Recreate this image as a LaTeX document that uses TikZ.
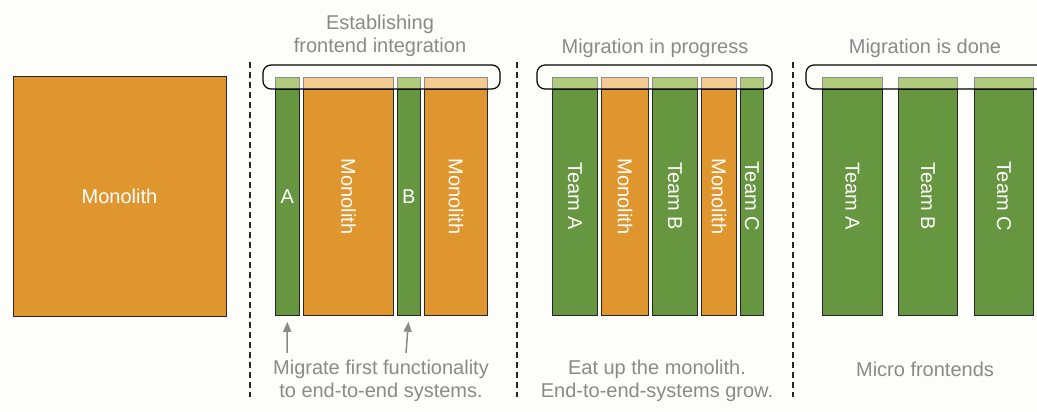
\documentclass[tikz,border=0pt]{standalone}
\usepackage{fontspec}
\setmainfont{Liberation Sans}
\usetikzlibrary{arrows.meta}

\definecolor{monodark}{HTML}{E0962F}
\definecolor{monolight}{HTML}{F3CA8F}
\definecolor{teamdark}{HTML}{66963F}
\definecolor{teamlight}{HTML}{AFCB7B}
\definecolor{captiongray}{HTML}{8A8A8A}
\definecolor{paper}{HTML}{FDFDFA}

\tikzset{
	bar/.style={draw=black!45, line width=0.8pt, inner sep=0pt, anchor=north west, minimum height=238pt},
	barline/.style={draw=black!85, line width=0.8pt},
	barlabel/.style={text=white, font=\fontsize{20}{24}\selectfont, inner sep=0pt},
	caption/.style={text=captiongray, font=\fontsize{20}{23}\selectfont, align=center},
	bracket/.style={draw=black, line width=1.2pt, rounded corners=8pt},
	divider/.style={draw=black!85, line width=1.2pt, dash pattern=on 6pt off 4pt},
	pointer/.style={draw=captiongray, line width=1.5pt, -{Triangle[width=8pt,length=10pt]}, shorten >=6pt}
}

% one column: name, left x, width, dark colour, light colour
\newcommand{\column}[5]{%
	\node[bar, fill=#5, minimum width=#3] (#1) at (#2,335) {};
	\fill[#4] ([yshift=-12pt]#1.north west) rectangle (#1.south east);
	\draw[barline] ([yshift=-12pt]#1.north west) rectangle (#1.south east);
}

\begin{document}
\begin{tikzpicture}[x=1pt,y=1pt]
			% Page size and background:
			\fill[paper] (0,0) rectangle (1037,412);
			\useasboundingbox (0,0) rectangle (1037,412);
			\clip (0,0) rectangle (1037,412);
			% The monolith before the migration:
			\node[draw=black!85, line width=0.8pt, fill=monodark, minimum width=213pt, minimum height=240pt, inner sep=0pt] (mono) at (119.5,216) {};
			\node[barlabel] at (mono) {Monolith};
			% Dashed dividers between the stages:
			\draw[divider] (250,350) -- (250,15);
			\draw[divider] (517,350) -- (517,15);
			\draw[divider] (793,350) -- (793,15);
			% Stage 1: establishing frontend integration
			\column{sA}{275}{24pt}{teamdark}{teamlight}
			\column{sMa}{303}{90pt}{monodark}{monolight}
			\column{sB}{397}{23pt}{teamdark}{teamlight}
			\column{sMb}{424}{63pt}{monodark}{monolight}
			\node[barlabel] at (sA) {A};
			\node[barlabel, rotate=-90] at (sMa) {Monolith};
			\node[barlabel] at (sB) {B};
			\node[barlabel, rotate=-90] at (sMb) {Monolith};
			\draw[bracket] (263,323) rectangle (500,347);
			\node[caption] at (380,376.5) {Establishing\\frontend integration};
			\coordinate (pA) at (287,59);
			\coordinate (pB) at (406,59);
			\draw[pointer] (pA) -- (sA.south);
			\draw[pointer] (pB) -- (sB.south);
			\node[caption] at (381,31.5) {Migrate first functionality\\to end-to-end systems.};
			% Stage 2: migration in progress
			\column{mA}{552}{45pt}{teamdark}{teamlight}
			\column{mMa}{601}{47pt}{monodark}{monolight}
			\column{mB}{652}{45pt}{teamdark}{teamlight}
			\column{mMb}{701}{35pt}{monodark}{monolight}
			\column{mC}{740}{23pt}{teamdark}{teamlight}
			\node[barlabel, rotate=-90] at (mA) {Team A};
			\node[barlabel, rotate=-90] at (mMa) {Monolith};
			\node[barlabel, rotate=-90] at (mB) {Team B};
			\node[barlabel, rotate=-90] at (mMb) {Monolith};
			\node[barlabel, rotate=-90] at (mC) {Team C};
			\draw[bracket] (537,323) rectangle (772,347);
			\node[caption] at (655,364) {Migration in progress};
			\node[caption] at (657,31.5) {Eat up the monolith.\\End-to-end-systems grow.};
			% Stage 3: migration is done
			\column{dA}{822}{60pt}{teamdark}{teamlight}
			\column{dB}{898}{59pt}{teamdark}{teamlight}
			\column{dC}{974}{59pt}{teamdark}{teamlight}
			\node[barlabel, rotate=-90] at (dA) {Team A};
			\node[barlabel, rotate=-90] at (dB) {Team B};
			\node[barlabel, rotate=-90] at (dC) {Team C};
			\draw[bracket] (806,323) rectangle (1050,347);
			\node[caption] at (925,364) {Migration is done};
			\node[caption] at (925,43) {Micro frontends};
		\end{tikzpicture}
\end{document}
